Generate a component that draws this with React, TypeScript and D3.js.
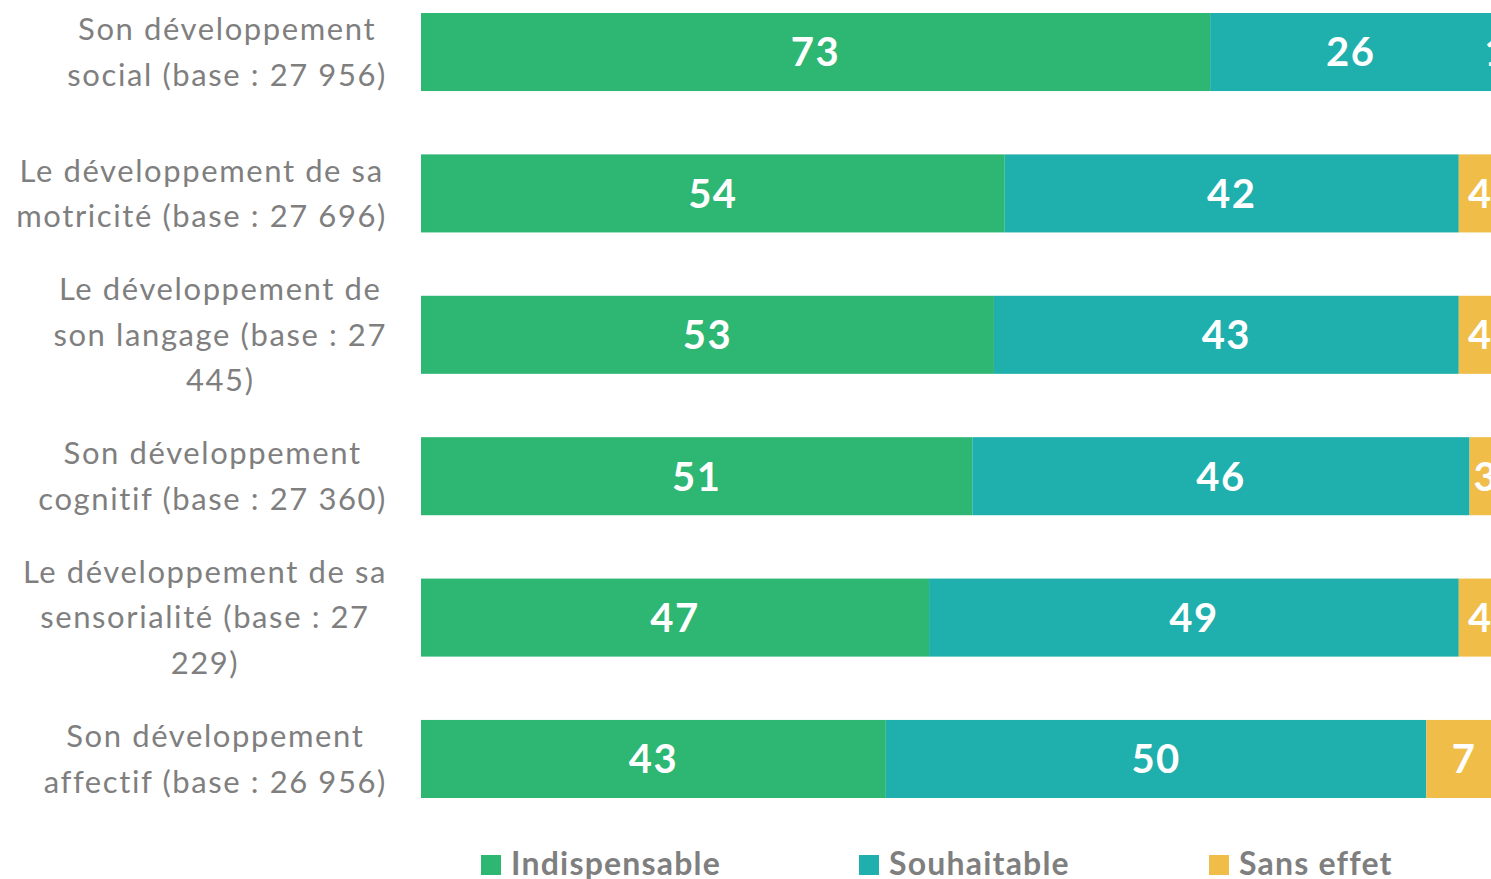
import React, { useEffect, useRef } from "react";
import * as d3 from "d3";

const categories = [
  "Son développement social (base : 27 956)",
  "Le développement de sa motricité (base : 27 696)",
  "Le développement de son langage (base : 27 445)",
  "Son développement cognitif (base : 27 360)",
  "Le développement de sa sensorialité (base : 27 229)",
  "Son développement affectif (base : 26 956)",
];
const categoryLines = [
  ["Son développement", "social (base : 27 956)"],
  ["Le développement de sa", "motricité (base : 27 696)"],
  ["Le développement de", "son langage (base : 27", "445)"],
  ["Son développement", "cognitif (base : 27 360)"],
  ["Le développement de sa", "sensorialité (base : 27", "229)"],
  ["Son développement", "affectif (base : 26 956)"],
];
const seriesNames = ["Indispensable", "Souhaitable", "Sans effet"];
const indispensable = [73, 54, 53, 51, 47, 43];
const souhaitable = [26, 42, 43, 46, 49, 50];
const sansEffet = [1, 4, 4, 3, 4, 7];
const colors = ["#2eb673", "#1fafad", "#f0bd48"];

const W = 1491;
const H = 879;
const FONT = "Lato, 'Open Sans', sans-serif";

export default function App() {
  const ref = useRef<SVGSVGElement>(null);
  useEffect(() => {
    const svg = d3.select(ref.current);
    svg.selectAll("*").remove();
    const x = d3.scaleLinear().domain([0, 100]).range([421, 1502]);
    const y = d3.scaleBand<string>().domain(categories).range([13, 798]).paddingInner(0.448).paddingOuter(0);

    const rows = categories.map((c, i) => ({
      cat: c,
      vals: [indispensable[i], souhaitable[i], sansEffet[i]],
    }));

    const g = svg.append("g");
    rows.forEach((r) => {
      let acc = 0;
      r.vals.forEach((v, k) => {
        const x0 = x(acc);
        const x1 = x(acc + v);
        acc += v;
        g.append("rect")
          .attr("x", x0)
          .attr("y", y(r.cat)!)
          .attr("width", x1 - x0)
          .attr("height", y.bandwidth())
          .attr("fill", colors[k]);
        g.append("text")
          .attr("x", (x0 + x1) / 2)
          .attr("y", y(r.cat)! + y.bandwidth() / 2)
          .attr("dy", "0.36em")
          .attr("text-anchor", "middle")
          .attr("fill", "#fff")
          .attr("font-family", FONT)
          .attr("font-weight", 700)
          .attr("font-size", 40)
          .attr("letter-spacing", 1.5)
          .text(String(v));
      });
    });

    // Category labels
    const lineH = 45.5;
    categories.forEach((c, i) => {
      const lines = categoryLines[i];
      const cy = y(c)! + y.bandwidth() / 2;
      const tg = svg.append("g");
      const texts = lines.map((ln, j) =>
        tg
          .append("text")
          .attr("text-anchor", "middle")
          .attr("y", cy + (j - (lines.length - 1) / 2) * lineH)
          .attr("dy", "0.35em")
          .attr("fill", "#7f7f7f")
          .attr("font-family", FONT)
          .attr("font-size", 31)
          .attr("letter-spacing", 1.6)
          .text(ln)
      );
      let maxW = 0;
      texts.forEach((t) => {
        maxW = Math.max(maxW, (t.node() as SVGTextElement).getComputedTextLength());
      });
      const cx = 387 - maxW / 2;
      texts.forEach((t) => t.attr("x", cx));
    });

    // Legend
    const legendX = [481, 859, 1209];
    seriesNames.forEach((n, k) => {
      svg
        .append("rect")
        .attr("x", legendX[k])
        .attr("y", 855)
        .attr("width", 20)
        .attr("height", 20)
        .attr("fill", colors[k]);
      svg
        .append("text")
        .attr("x", legendX[k] + 30)
        .attr("y", 875)
        .attr("fill", "#7f7f7f")
        .attr("font-family", FONT)
        .attr("font-weight", 700)
        .attr("font-size", 32)
        .attr("letter-spacing", 1.2)
        .text(n);
    });
  }, []);

  return (
    <svg
      ref={ref}
      width={W}
      height={H}
      style={{ position: "absolute", left: 0, top: 0, overflow: "hidden", background: "#fff" }}
    />
  );
}
